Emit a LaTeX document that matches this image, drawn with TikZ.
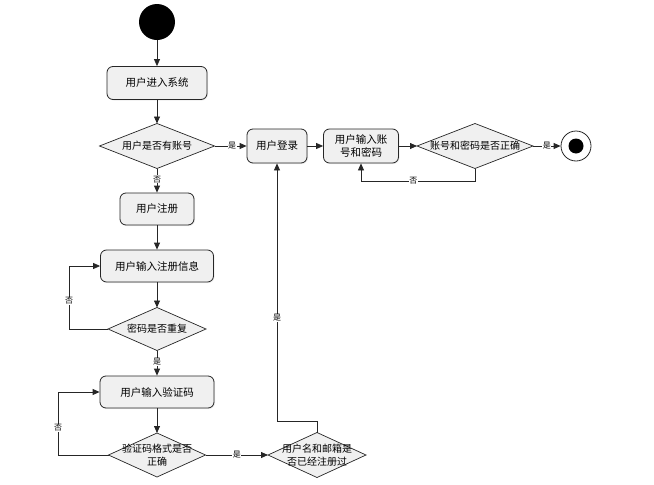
\documentclass[tikz,border=0pt]{standalone}
\usepackage{fontspec}
\setmainfont{Noto Sans CJK SC}
\usetikzlibrary{shapes.geometric,arrows.meta,shadows}
\begin{document}
\begin{tikzpicture}[x=1pt,y=-1pt,
  act/.style={draw=black!85,line width=0.8pt,fill=black!6,rounded corners=6pt,align=center,font=\fontsize{10.5}{13}\selectfont,inner sep=0pt,drop shadow={opacity=0.15,shadow xshift=1pt,shadow yshift=-1pt}},
  dec/.style={draw=black!85,line width=0.7pt,fill=black!6,diamond,inner sep=0pt,outer sep=0pt},
  dtext/.style={align=center,font=\fontsize{10}{12.5}\selectfont,inner sep=0pt},
  flow/.style={draw=black!85,line width=0.8pt,-{Triangle[length=7pt,width=6pt]}},
  lbl/.style={fill=white,inner sep=0.5pt,font=\fontsize{8}{9}\selectfont}]
\useasboundingbox (0,0) rectangle (654,485);
\node[circle,fill=black,minimum size=36pt,inner sep=0pt] (start) at (157,22) {};
\node[act,minimum width=100pt,minimum height=33pt] (enter) at (157,83) {用户进入系统};
\node[dec,minimum width=115pt,minimum height=45pt] (has) at (157,146) {};
\node[dtext] (hast) at (has.center) {用户是否有账号};
\node[act,minimum width=74pt,minimum height=32pt] (reg) at (157,209) {用户注册};
\node[act,minimum width=113pt,minimum height=32pt] (info) at (157,266) {用户输入注册信息};
\node[dec,minimum width=98pt,minimum height=43pt] (dup) at (157,329) {};
\node[dtext] (dupt) at (dup.center) {密码是否重复};
\node[act,minimum width=114pt,minimum height=32pt] (code) at (157,392) {用户输入验证码};
\node[dec,minimum width=97pt,minimum height=44pt] (fmt) at (157,455) {};
\node[dtext] (fmtt) at (fmt.center) {验证码格式是否\\正确};
\node[dec,minimum width=98pt,minimum height=45pt] (exist) at (317,455) {};
\node[dtext] (existt) at (exist.center) {用户名和邮箱是\\否已经注册过};
\node[act,minimum width=60pt,minimum height=34pt] (login) at (277,146) {用户登录};
\node[act,minimum width=75pt,minimum height=34pt] (pwd) at (361,146) {用户输入账\\号和密码};
\node[dec,minimum width=116pt,minimum height=45pt] (ok) at (475,146) {};
\node[dtext] (okt) at (ok.center) {账号和密码是否正确};
\node[circle,draw=black!85,line width=0.8pt,fill=white,minimum size=30pt,inner sep=0pt] (end) at (576,146) {};
\node[circle,fill=black,minimum size=15pt,inner sep=0pt] (endin) at (end) {};
\coordinate (c1) at (69,329);
\coordinate (c2) at (69,266);
\coordinate (c3) at (58,455);
\coordinate (c4) at (58,392);
\coordinate (c5) at (317,421);
\coordinate (c6) at (277,421);
\coordinate (c7) at (475,181);
\coordinate (c8) at (361,181);
\draw[flow] (start) -- (enter);
\draw[flow] (enter) -- (has);
\draw[flow] (has) -- node[lbl,pos=0.45]{否} (reg);
\draw[flow] (has) -- node[lbl,pos=0.55]{是} (login);
\draw[flow] (reg) -- (info);
\draw[flow] (info) -- (dup);
\draw[flow] (dup) -- node[lbl,pos=0.45]{是} (code);
\draw[flow] (dup.west) -- (c1) -- node[lbl,pos=0.45]{否} (c2) -- (info.west);
\draw[flow] (code) -- (fmt);
\draw[flow] (fmt.west) -- (c3) -- node[lbl,pos=0.43]{否} (c4) -- (code.west);
\draw[flow] (fmt) -- node[lbl,pos=0.5]{是} (exist);
\draw[flow] (exist.north) -- (c5) -- (c6) -- node[lbl,pos=0.4]{是} (login.south);
\draw[flow] (login) -- (pwd);
\draw[flow] (pwd) -- (ok);
\draw[flow] (ok.south) -- (c7) -- node[lbl,pos=0.54]{否} (c8) -- (pwd.south);
\draw[flow] (ok) -- node[lbl,pos=0.5]{是} (end);
\end{tikzpicture}
\end{document}
